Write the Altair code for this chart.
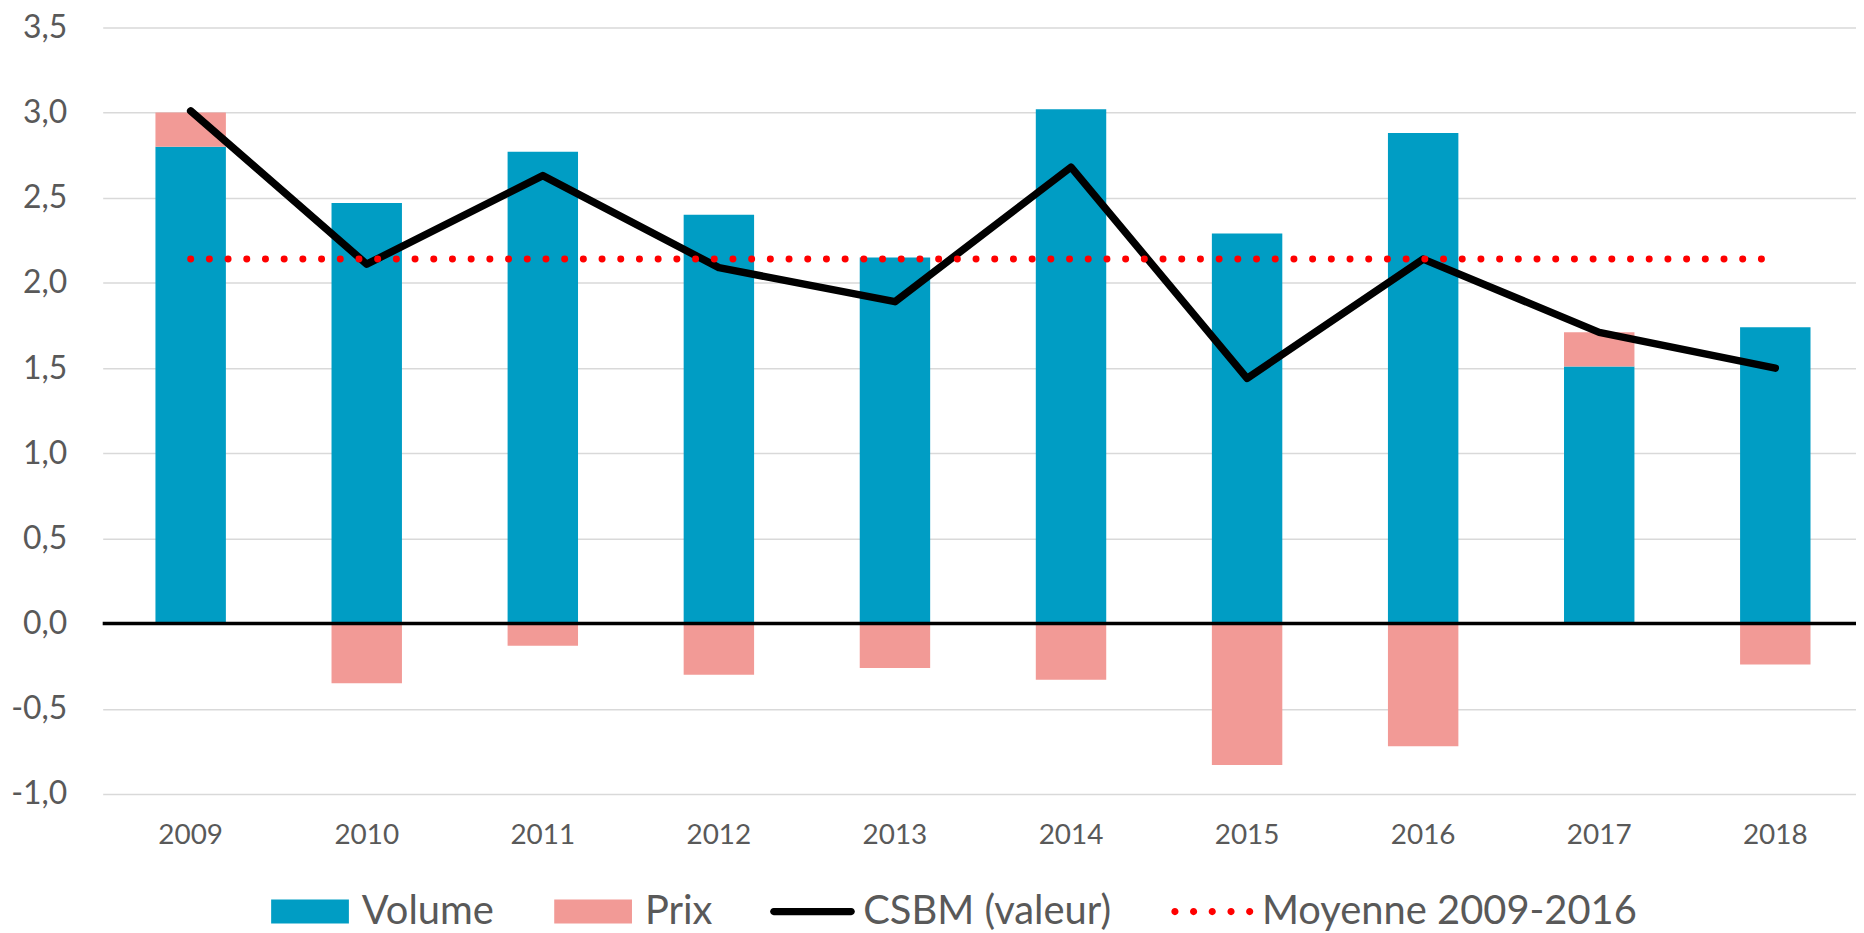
import altair as alt
import pandas as pd

# ---- data ----
years = ["2009", "2010", "2011", "2012", "2013", "2014", "2015", "2016", "2017", "2018"]
volume = [2.80, 2.47, 2.77, 2.40, 2.15, 3.02, 2.29, 2.88, 1.51, 1.74]
prix = [0.20, -0.35, -0.13, -0.30, -0.26, -0.33, -0.83, -0.72, 0.20, -0.24]
csbm = [3.01, 2.11, 2.63, 2.09, 1.89, 2.68, 1.44, 2.14, 1.71, 1.50]
moyenne = 2.14
y_ticks = [-1.0, -0.5, 0.0, 0.5, 1.0, 1.5, 2.0, 2.5, 3.0, 3.5]
series_names = ["Volume", "Prix", "CSBM (valeur)", "Moyenne 2009-2016"]
series_colors = ["#009DC4", "#F29A96", "#000000", "#FF0000"]

bar_df = pd.DataFrame({
    "year": years * 2,
    "series": ["Volume"] * len(years) + ["Prix"] * len(years),
    "value": volume + prix,
    "rank": [0] * len(years) + [1] * len(years),
})
line_df = pd.DataFrame({"year": years, "csbm": csbm, "mean": [moyenne] * len(years)})
zero_df = pd.DataFrame({"z": [0.0]})

FONT = "Lato"
GREY = "#595959"

x_scale = alt.Scale(paddingInner=0.6, paddingOuter=0.279, align=0.537)
y_scale = alt.Scale(domain=[-1, 3.5], nice=False, zero=False)

x_axis = alt.Axis(title=None, labelAngle=0, ticks=False, tickSize=0, domain=False,
                  grid=False, labelFont=FONT, labelFontSize=28, labelColor=GREY,
                  labelPadding=28)
y_axis = alt.Axis(title=None, values=y_ticks, ticks=False, tickSize=0, domain=False,
                  labelExpr="(datum.value < 0 ? '-' : '') + replace(format(abs(datum.value), '.1f'), '.', ',')",
                  labelFont=FONT, labelFontSize=32, labelColor=GREY, labelPadding=36,
                  grid=True, gridColor="#D9D9D9", gridWidth=1.5)

# legend symbol paths (unit box is 24px wide/high here)
swatch = "M-1,-1H5.5V1H-1Z"
line_sym = "M-0.9,-0.3H5.58A0.3,0.3 0 0 1 5.58,0.3H-0.9A0.3,0.3 0 0 1 -0.9,-0.3Z"
dots_sym = ""
r = 0.3
for cx in [-0.69, 0.87, 2.43, 4.0, 5.56]:
    dots_sym += f"M{cx - r:.2f},0A{r},{r} 0 1 0 {cx + r:.2f},0A{r},{r} 0 1 0 {cx - r:.2f},0Z"

legend_kw = dict(title=None, orient="none", legendX=161, legendY=867,
                 direction="horizontal", columns=4, columnPadding=52,
                 labelFont=FONT, labelFontSize=40, labelColor=GREY,
                 labelOffset=59, labelLimit=0, symbolSize=576,
                 symbolStrokeWidth=0, symbolOpacity=1, padding=0)

bars = alt.Chart(bar_df).mark_bar().encode(
    x=alt.X("year:N", sort=years, scale=x_scale, axis=x_axis),
    y=alt.Y("value:Q", stack="zero", scale=y_scale, axis=y_axis),
    fill=alt.Fill("series:N", scale=alt.Scale(domain=series_names[:2], range=series_colors[:2]),
                  legend=None),
    order=alt.Order("rank:Q"),
)

# legend carrier: no visible marks, only the legend
legend_layer = alt.Chart(bar_df).transform_filter("false").mark_point(
    filled=True, opacity=1, size=576
).encode(
    x=alt.X("year:N", sort=years, axis=x_axis),
    y=alt.Y("value:Q", axis=y_axis),
    color=alt.Color("series:N", scale=alt.Scale(domain=series_names, range=series_colors),
                    legend=alt.Legend(**legend_kw)),
    shape=alt.Shape("series:N",
                    scale=alt.Scale(domain=series_names,
                                    range=[swatch, swatch, line_sym, dots_sym]),
                    legend=alt.Legend(**legend_kw)),
)

zero = alt.Chart(zero_df).mark_rule(color="black", strokeWidth=3.5).encode(
    y=alt.Y("z:Q", scale=y_scale, axis=y_axis)
)

line = alt.Chart(line_df).mark_line(color="black", strokeWidth=7.5, strokeCap="round",
                                    strokeJoin="round").encode(
    x=alt.X("year:N", sort=years, axis=x_axis),
    y=alt.Y("csbm:Q", axis=y_axis),
)

mean = alt.Chart(line_df).mark_line(color="#FF0000", strokeWidth=7, strokeDash=[0.01, 18.75],
                                    strokeCap="round").encode(
    x=alt.X("year:N", sort=years, axis=x_axis),
    y=alt.Y("mean:Q", axis=y_axis),
)

chart = (
    alt.layer(bars, zero, line, mean, legend_layer)
    .properties(
        width=1759,
        height=769,
        padding={"left": 95, "top": 18, "right": 0, "bottom": 138},
        autosize=alt.AutoSizeParams(type="none"),
        view=alt.ViewBackground(stroke="transparent", strokeWidth=0, strokeOpacity=0),
    )
    .configure_view(stroke="transparent", strokeWidth=0, strokeOpacity=0)
    .configure_axis(domain=False, tickBand="center")
    .configure_axisX(grid=False, domain=False)
    .configure_axisY(domain=False)
    .configure(background="white")
)

chart.save("out.html", embed_options={"renderer": "svg", "actions": False})
